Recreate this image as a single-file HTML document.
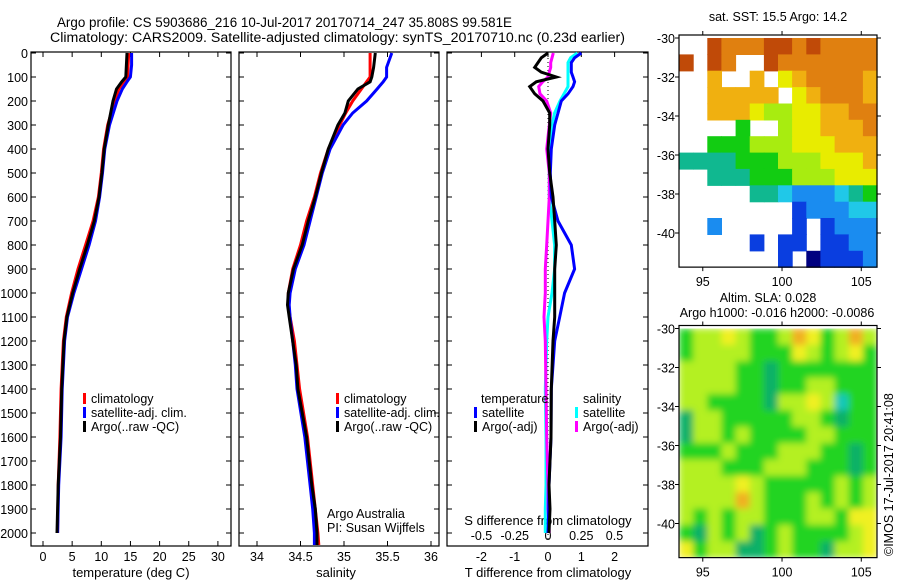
<!DOCTYPE html>
<html><head><meta charset="utf-8"><style>
html,body{margin:0;padding:0;background:#fff;}
svg{display:block;font-family:"Liberation Sans",sans-serif;}
text{fill:#000;}
</style></head><body>
<svg id="chart" width="900" height="580" viewBox="0 0 900 580">
<g id="titles">
<text x="57" y="27" font-size="13.5" textLength="455" lengthAdjust="spacingAndGlyphs">Argo profile: CS 5903686_216 10-Jul-2017 20170714_247 35.808S 99.581E</text>
<text x="50" y="42" font-size="13.5" textLength="575" lengthAdjust="spacingAndGlyphs">Climatology: CARS2009. Satellite-adjusted climatology: synTS_20170710.nc (0.23d earlier)</text>
</g>
<g id="layer"></g>
</svg>
<script>
// ---------- data ----------
const depthT = [0,50,100,120,150,200,300,400,500,600,700,800,900,1000,1100,1200,1400,1600,1800,2000];
const tArgo  = [14.4,14.3,14.2,13.5,12.6,12.0,11.2,10.5,10.1,9.6,8.8,7.6,6.3,5.1,4.1,3.6,3.2,3.0,2.6,2.4];
const tClim  = [14.7,14.6,14.5,13.8,13.0,12.3,11.1,10.4,10.0,9.5,8.6,7.3,6.0,4.9,4.0,3.5,3.1,2.9,2.6,2.5];
const tSat   = [15.2,15.2,15.0,14.4,13.6,12.7,11.4,10.6,10.2,9.7,9.0,7.9,6.6,5.3,4.2,3.7,3.3,3.1,2.7,2.5];
const depthS = [0,60,100,120,150,200,250,300,400,500,600,700,800,900,1000,1050,1100,1200,1300,1400,1600,1800,1900,2000,2050];
const sArgo  = [35.36,35.34,35.32,35.30,35.16,35.05,35.01,34.93,34.82,34.74,34.67,34.59,34.52,34.42,34.36,34.35,34.37,34.41,34.45,34.47,34.57,34.63,34.67,34.69,34.69];
const sClim  = [35.30,35.30,35.30,35.26,35.20,35.10,35.02,34.95,34.82,34.73,34.66,34.57,34.50,34.41,34.36,34.36,34.38,34.43,34.46,34.49,34.58,34.64,34.67,34.70,34.71];
const sSat   = [35.55,35.49,35.49,35.45,35.38,35.26,35.10,34.99,34.84,34.75,34.68,34.61,34.54,34.44,34.38,34.37,34.38,34.41,34.44,34.46,34.55,34.61,34.64,34.66,34.66];
const depthD = [0,20,40,60,80,100,120,140,170,200,250,300,400,500,600,700,800,900,1000,1100,1200,1400,1600,1800,1900,2000];
const dTSat  = [1.0,0.8,0.7,0.7,0.7,0.75,0.8,0.75,0.6,0.4,0.3,0.2,0.1,0.07,0.1,0.3,0.7,0.8,0.5,0.35,0.2,0.1,0.09,0.03,0.02,0.0];
const dTArgo = [0.0,-0.2,-0.3,-0.4,-0.2,0.25,-0.35,-0.55,-0.4,-0.15,0.05,0.05,0.0,0.05,0.15,0.2,0.25,0.2,0.2,0.2,0.15,0.1,0.09,0.03,0.06,0.03];
const dSSat  = [0.22,0.17,0.15,0.15,0.15,0.15,0.15,0.15,0.12,0.09,0.05,0.03,0.01,0.01,0.01,0.03,0.05,0.05,0.03,0.0,-0.01,-0.02,-0.015,-0.015,-0.02,-0.02];
const dSArgo = [0.04,0.03,0.02,0.02,0.01,0.0,-0.04,-0.07,-0.06,-0.01,0.02,0.01,-0.01,0.01,0.01,0.0,-0.01,-0.02,-0.02,-0.03,-0.02,-0.015,-0.01,0.0,0.0,0.01];
const depthTicks = [0,100,200,300,400,500,600,700,800,900,1000,1100,1200,1300,1400,1500,1600,1700,1800,1900,2000];
const tempTicks = [0,5,10,15,20,25,30];
const salTicks = [34,34.5,35,35.5,36];
const tDiffTicks = [-2,-1,0,1,2];
const sDiffTicks = [-0.5,-0.25,0,0.25,0.5];
const latTicks = [-30,-32,-34,-36,-38,-40];
const lonTicks = [95,100,105];
// SST map: chars are colour levels, '.' = no data
const sstRows = [
"..r999rr9r9999",
"r.r9..r9999999",
"..8..8.7899998",
"..88888.789998",
"..888766778899",
"....5..6778889",
"..555666777888",
"44445556667778",
"..444555666777",
".....443222345",
"........122233",
"..2.....1.1222",
".....1.11.1122",
".......1.01112"];
const slaRows = [
"56676556875686",
"56666555765675",
"66665545555555",
"66665545566555",
"66555546676355",
"46655555665455",
"46656555566555",
"55565556665545",
"66655566655545",
"66667655555656",
"66668655565656",
"65656655566577",
"54656456555567",
"75664456554667"];

// ---------- helpers ----------
const NS = "http://www.w3.org/2000/svg";
const layer = document.getElementById('layer');
function mk(tag, attrs, parent){ const e=document.createElementNS(NS,tag); for(const k in attrs) e.setAttribute(k,attrs[k]); (parent||layer).appendChild(e); return e; }
const TOP=52, BOT=546;
const yD = d => 53 + 0.24*d;
const xT = v => 43 + 5.83*v;
const xS = v => 257 + 87*(v-34);
const xDT = v => 548 + 33.3*v;
const xDS = v => 548 + 133*v;
const panels = [{x0:31,x1:231,name:'temperature-panel'},{x0:239,x1:439,name:'salinity-panel'},{x0:447,x1:648,name:'difference-panel'}];

function line(xs, ds, fx, color, name){
  const pts = xs.map((v,i)=>fx(v).toFixed(1)+','+yD(ds[i]).toFixed(1)).join(' ');
  const p = mk('polyline',{points:pts,fill:'none',stroke:color,'stroke-width':3,'stroke-linejoin':'miter'});
  
  
}
function txt(x,y,s,size,anchor,name){
  const t=mk('text',{x:x,y:y,'font-size':size,'text-anchor':anchor||'start'}); t.textContent=s;
  
  
  return t;
}

panels.forEach((p,pi)=>{
  const r = mk('rect',{x:p.x0,y:TOP,width:p.x1-p.x0,height:BOT-TOP,fill:'none',stroke:'#000','stroke-width':1.2});
  
  
  depthTicks.forEach(d=>{
    mk('line',{x1:p.x0,x2:p.x0+5,y1:yD(d),y2:yD(d),stroke:'#000'});
    mk('line',{x1:p.x1-5,x2:p.x1,y1:yD(d),y2:yD(d),stroke:'#000'});
  });
});
depthTicks.forEach(d=> txt(28, yD(d)+5, String(d), 12.5, 'end', 'depth-tick-label'));

function xticks(ticks, fx, yLab, top, bottom, name){
  ticks.forEach(v=>{
    const x=fx(v);
    if(bottom) mk('line',{x1:x,x2:x,y1:BOT-5,y2:BOT,stroke:'#000'});
    if(top) mk('line',{x1:x,x2:x,y1:TOP,y2:TOP+5,stroke:'#000'});
    if(yLab) txt(x, yLab, String(v), 12.5, 'middle', name);
  });
}
xticks(tempTicks, xT, 561, true, true, 'temperature-tick-label');
xticks(salTicks, xS, 561, true, true, 'salinity-tick-label');
xticks(tDiffTicks, xDT, 561, true, false, 't-diff-tick-label');
sDiffTicks.forEach(v=> txt(xDS(v), 540, String(v), 12.5, 'middle', 's-diff-tick-label'));
txt(131,577,'temperature (deg C)',13,'middle','temperature-axis-title');
txt(336,577,'salinity',13,'middle','salinity-axis-title');
txt(548,577,'T difference from climatology',13,'middle','t-diff-axis-title');
txt(548,525,'S difference from climatology',13,'middle','s-diff-axis-title');

const z = mk('line',{x1:548,x2:548,y1:TOP+2,y2:540,stroke:'#000','stroke-dasharray':'1,3'});



line(tClim, depthT, xT, '#ff0000', 'temperature-climatology-line');
line(tSat, depthT, xT, '#0000ff', 'temperature-satellite-line');
line(tArgo, depthT, xT, '#000000', 'temperature-argo-line');
line(sClim, depthS, xS, '#ff0000', 'salinity-climatology-line');
line(sSat, depthS, xS, '#0000ff', 'salinity-satellite-line');
line(sArgo, depthS, xS, '#000000', 'salinity-argo-line');
line(dSSat, depthD, xDS, '#00ffff', 's-diff-satellite-line');
line(dSArgo, depthD, xDS, '#ff00ff', 's-diff-argo-line');
line(dTSat, depthD, xDT, '#0000ff', 't-diff-satellite-line');
line(dTArgo, depthD, xDT, '#000000', 't-diff-argo-line');

function legEntry(bx, y, color, label, name){
  const g = mk('g',{});
  
  
  mk('rect',{x:bx,y:y-10,width:3,height:11,fill:color},g);
  const t=mk('text',{x:bx+8,y:y,'font-size':12.5},g); t.textContent=label;
}
legEntry(83,403,'#ff0000','climatology','legend-entry-climatology');
legEntry(83,417,'#0000ff','satellite-adj. clim.','legend-entry-satellite');
legEntry(83,431,'#000000','Argo(..raw -QC)','legend-entry-argo');
legEntry(336,403,'#ff0000','climatology','legend-entry-climatology');
legEntry(336,417,'#0000ff','satellite-adj. clim.','legend-entry-satellite');
legEntry(336,431,'#000000','Argo(..raw -QC)','legend-entry-argo');
txt(481,403,'temperature',12.5,'start','legend-heading-temperature');
legEntry(474,417,'#0000ff','satellite','legend-entry-t-satellite');
legEntry(474,431,'#000000','Argo(-adj)','legend-entry-t-argo');
txt(583,403,'salinity',12.5,'start','legend-heading-salinity');
legEntry(575,417,'#00ffff','satellite','legend-entry-s-satellite');
legEntry(575,431,'#ff00ff','Argo(-adj)','legend-entry-s-argo');
txt(327,518,'Argo Australia',12.5,'start','credit-argo-australia');
txt(327,532,'PI: Susan Wijffels',12.5,'start','credit-pi');

// ---------- maps ----------
const MX0=679, MX1=877;
const xLon = v => 679 + 15.85*(v-93.5);
const sstCol = {'0':'#000080','1':'#0a3ee0','2':'#1a8cf0','3':'#20c8e8','4':'#10b890','5':'#12cc12','6':'#a8ec10','7':'#e8ec00','8':'#f0b010','9':'#e08010','r':'#c04a08'};
const slaCol = {'3':'#18c8b8','4':'#10b068','5':'#22d422','6':'#b4f020','7':'#f0f020','8':'#f0b020'};
function drawMap(rows, cols, yTop, name, blur){
  const latY = v => yTop + 19.5*(-30 - v);
  const yBot = latY(-41.75);
  const g = mk('g',{});
  
  
  const nR = rows.length, nC = rows[0].length;
  const cw=(MX1-MX0)/nC, ch=(yBot-yTop)/nR;
  const inner = mk('g', blur?{filter:'url(#blurF)','clip-path':'url(#clip2)'}:{}, g);
  rows.forEach((row,ri)=>{
    for(let ci=0;ci<nC;ci++){
      const c=row[ci]; if(c==='.') continue;
      const r = mk('rect',{x:(MX0+ci*cw).toFixed(1),y:(yTop+ri*ch).toFixed(1),width:(cw+0.6).toFixed(1),height:(ch+0.6).toFixed(1),fill:cols[c]},inner);
      
      
    }
  });
  const f = mk('rect',{x:MX0,y:yTop-3,width:MX1-MX0,height:yBot-yTop+3,fill:'none',stroke:'#000','stroke-width':1.2},g);
  
  
  latTicks.forEach(v=>{
    const y=latY(v);
    mk('line',{x1:MX0-4,x2:MX0,y1:y,y2:y,stroke:'#000'},g);
    mk('line',{x1:MX1,x2:MX1+4,y1:y,y2:y,stroke:'#000'},g);
    txt(675,y+5,String(v),12.5,'end','latitude-tick-label');
  });
  lonTicks.forEach(v=>{
    const x=xLon(v);
    mk('line',{x1:x,x2:x,y1:yBot,y2:yBot+4,stroke:'#000'},g);
    mk('line',{x1:x,x2:x,y1:yTop-7,y2:yTop-3,stroke:'#000'},g);
    txt(x,yBot+19,String(v),12.5,'middle','longitude-tick-label');
  });
  return yBot;
}
const defs = mk('defs',{});
const flt = mk('filter',{id:'blurF',x:'0',y:'0',width:'1',height:'1'},defs);
mk('feGaussianBlur',{stdDeviation:'3.5',edgeMode:'duplicate'},flt);
const cp = mk('clipPath',{id:'clip2'},defs);
mk('rect',{x:MX0,y:327,width:MX1-MX0,height:230},cp);
drawMap(sstRows, sstCol, 38, 'sst-map', false);
drawMap(slaRows, slaCol, 328.5, 'sla-map', true);
txt(778,21,'sat. SST: 15.5 Argo: 14.2',12.5,'middle','sst-map-title');
txt(768,302,'Altim. SLA: 0.028',12.5,'middle','sla-map-title');
txt(777,317,'Argo h1000: -0.016 h2000: -0.0086',12.5,'middle','sla-map-subtitle');
const rt = txt(0,0,'©IMOS 17-Jul-2017 20:41:08',12.5,'start','timestamp');
rt.setAttribute('transform','translate(893,556) rotate(-90)');
</script>
</body></html>
